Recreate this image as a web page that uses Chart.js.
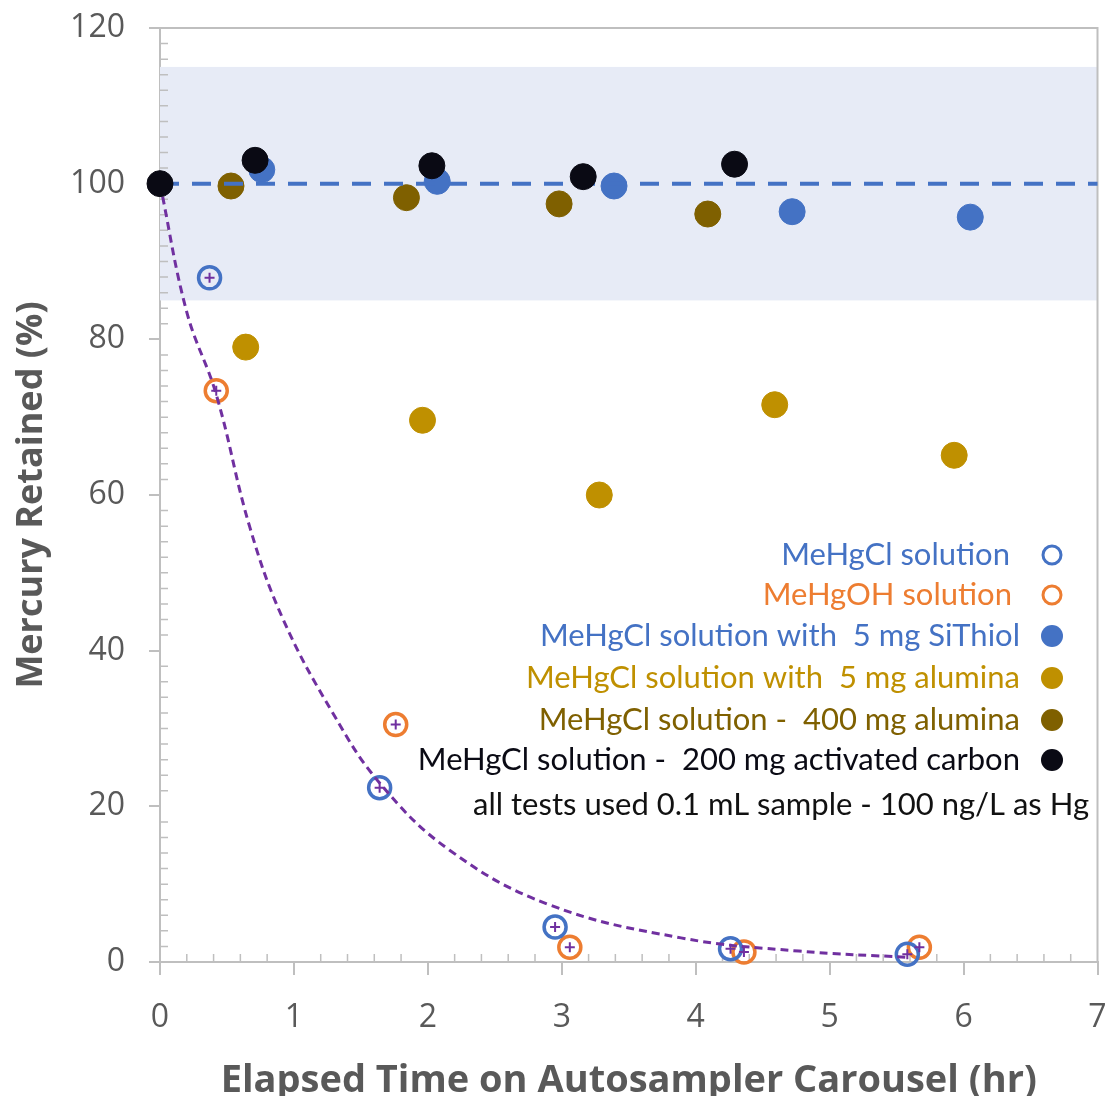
<!DOCTYPE html>
<html>
<head>
<meta charset="utf-8">
<script src="https://cdn.jsdelivr.net/npm/chart.js@4.4.1/dist/chart.umd.min.js"></script>
<style>
  body { margin: 0; background: #fff; }
  #wrap { width: 1112px; height: 1096px; position: relative; }
</style>
</head>
<body>
<div id="wrap"><canvas id="chart"></canvas></div>
<script>
// elapsed time (hr) / mercury retained (%)
const meHgClX = [0.37, 1.64, 2.95, 4.26, 5.58];
const meHgClY = [87.9, 22.4, 4.5, 1.7, 1.0];
const meHgOHX = [0.42, 1.76, 3.06, 4.36, 5.67];
const meHgOHY = [73.4, 30.5, 1.9, 1.3, 1.9];
const siThiolX = [0.76, 2.07, 3.39, 4.72, 6.05];
const siThiolY = [101.8, 100.3, 99.7, 96.4, 95.7];
const alumina5X = [0.64, 1.96, 3.28, 4.59, 5.93];
const alumina5Y = [79.0, 69.6, 60.0, 71.6, 65.1];
const alumina400X = [0.53, 1.84, 2.98, 4.09];
const alumina400Y = [99.7, 98.2, 97.4, 96.1];
const carbonX = [0, 0.71, 2.03, 3.16, 4.29];
const carbonY = [100, 103.0, 102.3, 100.9, 102.5];
// dashed decay trend line
const trendX = [0, 0.2, 0.42, 0.67, 0.92, 1.29, 1.64, 2.16, 2.90, 3.89, 4.77, 5.58];
const trendY = [100, 83.5, 72.9, 55.9, 44.0, 32.0, 23.0, 14.4, 7.4, 3.1, 1.4, 0.6];
const refX = [0, 7];
const refY = [100, 100];
const bandRange = [85, 115];

const xTicks = [0, 1, 2, 3, 4, 5, 6, 7];
const yTicks = [0, 20, 40, 60, 80, 100, 120];

const legendItems = [
  { text: 'MeHgCl solution', color: '#4472C4', marker: 'open' },
  { text: 'MeHgOH solution', color: '#ED7D31', marker: 'open' },
  { text: 'MeHgCl solution with  5 mg SiThiol', color: '#4472C4', marker: 'fill' },
  { text: 'MeHgCl solution with  5 mg alumina', color: '#BF9000', marker: 'fill' },
  { text: 'MeHgCl solution -  400 mg alumina', color: '#7F6000', marker: 'fill' },
  { text: 'MeHgCl solution -  200 mg activated carbon', color: '#0A0A14', marker: 'fill' },
  { text: 'all tests used 0.1 mL sample - 100 ng/L as Hg', color: '#111', marker: null }
];

function pts(xs, ys) {
  return xs.map((x, i) => ({ x: x, y: ys[i] }));
}

const axisGray = '#BFBFBF';
const textGray = '#595959';

const bandPlugin = {
  id: 'band',
  beforeDatasetsDraw(chart) {
    const { ctx, chartArea: a, scales } = chart;
    const x = scales.x, y = scales.y;
    ctx.save();
    ctx.fillStyle = '#E7EBF6';
    const t = y.getPixelForValue(bandRange[1]);
    const b = y.getPixelForValue(bandRange[0]);
    ctx.fillRect(a.left, t, a.right - a.left, b - t);

    // frame top + right
    ctx.strokeStyle = axisGray;
    ctx.lineWidth = 2;
    ctx.beginPath();
    ctx.moveTo(a.left - 11, a.top);
    ctx.lineTo(a.right, a.top);
    ctx.lineTo(a.right, a.bottom);
    ctx.stroke();

    // minor ticks pointing inwards
    ctx.lineWidth = 1.5;
    ctx.beginPath();
    for (let v = 0.2; v < 7; v += 0.2) {
      if (Math.abs(v - Math.round(v)) < 0.01) continue;
      const px = x.getPixelForValue(v);
      ctx.moveTo(px, a.bottom);
      ctx.lineTo(px, a.bottom - 8);
    }
    for (let v = 2; v < 120; v += 2) {
      if (v % 20 === 0) continue;
      const py = y.getPixelForValue(v);
      ctx.moveTo(a.left, py);
      ctx.lineTo(a.left + 8, py);
    }
    ctx.stroke();
    ctx.restore();
  }
};

const legendPlugin = {
  id: 'noteLegend',
  afterDatasetsDraw(chart) {
    const { ctx } = chart;
    const rows = [555, 595, 636, 678, 720, 760, 805];
    const ends = [1010, 1012, 1020, 1020, 1020, 1020, 1089];
    ctx.save();
    ctx.font = '31px Lato';
    ctx.textAlign = 'right';
    ctx.textBaseline = 'middle';
    legendItems.forEach((it, i) => {
      ctx.fillStyle = it.color;
      ctx.fillText(it.text, ends[i], rows[i]);
      if (it.marker === 'open') {
        ctx.beginPath();
        ctx.arc(1052, rows[i], 9, 0, Math.PI * 2);
        ctx.strokeStyle = it.color;
        ctx.lineWidth = 3;
        ctx.stroke();
      } else if (it.marker === 'fill') {
        ctx.beginPath();
        ctx.arc(1052, rows[i], 11, 0, Math.PI * 2);
        ctx.fill();
      }
    });
    ctx.restore();
  }
};

const ctx = document.getElementById('chart').getContext('2d');
new Chart(ctx, {
  type: 'scatter',
  data: {
    datasets: [
      {
        label: 'MeHgCl solution - 200 mg activated carbon',
        data: pts(carbonX, carbonY),
        backgroundColor: '#0A0A14', borderColor: '#0A0A14',
        pointRadius: 13, order: 1
      },
      {
        label: 'MeHgCl fit',
        data: pts(meHgClX, meHgClY),
        pointStyle: 'cross', pointRadius: 5, borderColor: '#7030A0', borderWidth: 2,
        order: 2
      },
      {
        label: 'MeHgOH fit',
        data: pts(meHgOHX, meHgOHY),
        pointStyle: 'cross', pointRadius: 5, borderColor: '#7030A0', borderWidth: 2,
        order: 2
      },
      {
        label: 'reference',
        type: 'line',
        data: pts(refX, refY),
        borderColor: '#4472C4', borderWidth: 4, borderDash: [19, 13],
        pointRadius: 0, order: 3
      },
      {
        label: 'MeHgCl solution - 400 mg alumina',
        data: pts(alumina400X, alumina400Y),
        backgroundColor: '#7F6000', borderColor: '#7F6000',
        pointRadius: 13, order: 4
      },
      {
        label: 'MeHgCl solution with 5 mg SiThiol',
        data: pts(siThiolX, siThiolY),
        backgroundColor: '#4472C4', borderColor: '#4472C4',
        pointRadius: 13, order: 5
      },
      {
        label: 'MeHgCl solution with 5 mg alumina',
        data: pts(alumina5X, alumina5Y),
        backgroundColor: '#BF9000', borderColor: '#BF9000',
        pointRadius: 13, order: 6
      },
      {
        label: 'trend',
        type: 'line',
        data: pts(trendX, trendY),
        borderColor: '#7030A0', borderWidth: 3, borderDash: [8, 5],
        pointRadius: 0, tension: 0.4, order: 7
      },
      {
        label: 'MeHgCl solution',
        data: pts(meHgClX, meHgClY),
        backgroundColor: 'rgba(255,255,255,0)', borderColor: '#4472C4', borderWidth: 3.5,
        pointRadius: 11, order: 8
      },
      {
        label: 'MeHgOH solution',
        data: pts(meHgOHX, meHgOHY),
        backgroundColor: 'rgba(255,255,255,0)', borderColor: '#ED7D31', borderWidth: 3.5,
        pointRadius: 11, order: 8
      }
    ]
  },
  options: {
    responsive: true,
    maintainAspectRatio: false,
    animation: false,
    clip: false,
    layout: { padding: { top: 28, right: 12, left: 0, bottom: 0 } },
    plugins: { legend: { display: false }, tooltip: { enabled: false } },
    elements: { point: { hoverRadius: 0 } },
    scales: {
      x: {
        type: 'linear', min: 0, max: 7,
        afterBuildTicks: (s) => { s.ticks = xTicks.map(v => ({ value: v })); },
        afterFit: (s) => { s.height = 134; s.paddingLeft = 0; s.paddingRight = 0; },
        grid: { drawOnChartArea: false, drawTicks: true, tickLength: 13, color: axisGray, lineWidth: 2 },
        border: { color: axisGray, width: 2 },
        ticks: { color: textGray, font: { family: 'Open Sans', size: 32 }, padding: 24 },
        title: { display: true, text: 'Elapsed Time on Autosampler Carousel (hr)', color: textGray,
                 font: { family: 'Open Sans', size: 38, weight: 'bold' }, padding: { top: 0, bottom: -8 } }
      },
      y: {
        type: 'linear', min: 0, max: 120,
        afterBuildTicks: (s) => { s.ticks = yTicks.map(v => ({ value: v })); },
        afterFit: (s) => { s.width = 160; s.paddingTop = 0; s.paddingBottom = 0; },
        grid: { drawOnChartArea: false, drawTicks: true, tickLength: 11, color: axisGray, lineWidth: 2 },
        border: { color: axisGray, width: 2 },
        ticks: { color: textGray, font: { family: 'Open Sans', size: 32 }, padding: 24 },
        title: { display: true, text: 'Mercury Retained (%)', color: textGray,
                 font: { family: 'Open Sans', size: 36, weight: 'bold' }, padding: { top: 10, bottom: 0 } }
      }
    }
  },
  plugins: [bandPlugin, legendPlugin]
});
</script>
</body>
</html>
